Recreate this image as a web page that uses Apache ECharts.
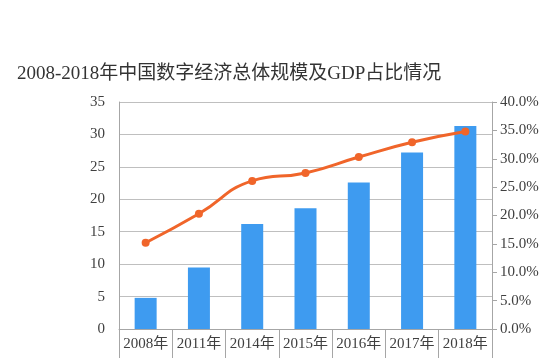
<!DOCTYPE html>
<html><head><meta charset="utf-8">
<script src="https://cdn.jsdelivr.net/npm/echarts@6/dist/echarts.min.js"></script>
<style>html,body{margin:0;padding:0;background:#fff}#c{width:558px;height:358px}</style>
</head><body><div id="c"></div>
<script>
var titleText = '2008-2018年中国数字经济总体规模及GDP占比情况';
var categories = ['2008年','2011年','2014年','2015年','2016年','2017年','2018年'];
var scaleValues = [4.8, 9.5, 16.2, 18.6, 22.6, 27.2, 31.3];
var gdpShare = [15.2, 20.3, 26.1, 27.5, 30.3, 32.9, 34.8];
var leftTicks = {min: 0, max: 35, interval: 5};
var rightTicks = {min: 0, max: 40, interval: 5};

var FONT = '"Liberation Serif", "Noto Sans CJK SC", serif';
var chart = echarts.init(document.getElementById('c'), null, {renderer: 'canvas'});
chart.setOption({
  animation: false,
  backgroundColor: '#fff',
  title: {
    text: titleText, left: 12, top: 60,
    textStyle: {fontFamily: FONT, fontSize: 19, fontWeight: 'normal', color: '#333'}
  },
  grid: {left: 119, right: 66, top: 102, bottom: 29, containLabel: false},
  xAxis: {
    type: 'category', data: categories, boundaryGap: true,
    axisLine: {lineStyle: {color: '#a6a6a6', width: 1}},
    axisTick: {show: true, interval: 0, length: 32, lineStyle: {color: '#a6a6a6'}},
    axisLabel: {interval: 0, margin: 8, fontFamily: FONT, fontSize: 15, color: '#404040'}
  },
  yAxis: [{
    type: 'value', min: leftTicks.min, max: leftTicks.max, interval: leftTicks.interval,
    axisLine: {show: true, lineStyle: {color: '#a6a6a6'}},
    axisTick: {show: false},
    splitLine: {lineStyle: {color: '#bfbfbf', width: 1}},
    axisLabel: {margin: 14, fontFamily: FONT, fontSize: 15, color: '#404040'}
  }, {
    type: 'value', min: rightTicks.min, max: rightTicks.max, interval: rightTicks.interval,
    position: 'right',
    axisLine: {show: true, lineStyle: {color: '#a6a6a6'}},
    axisTick: {show: true, length: 5, lineStyle: {color: '#a6a6a6'}},
    splitLine: {show: false},
    axisLabel: {margin: 8, fontFamily: FONT, fontSize: 15, color: '#404040',
      formatter: function (v) { return v.toFixed(1) + '%'; }}
  }],
  series: [{
    type: 'bar', data: scaleValues, barWidth: 22, yAxisIndex: 0,
    itemStyle: {color: '#3e9bf0'}
  }, {
    type: 'line', data: gdpShare, yAxisIndex: 1, smooth: true,
    symbol: 'circle', symbolSize: 8,
    lineStyle: {color: '#f0652a', width: 3},
    itemStyle: {color: '#f0652a'}
  }]
});
</script></body></html>
